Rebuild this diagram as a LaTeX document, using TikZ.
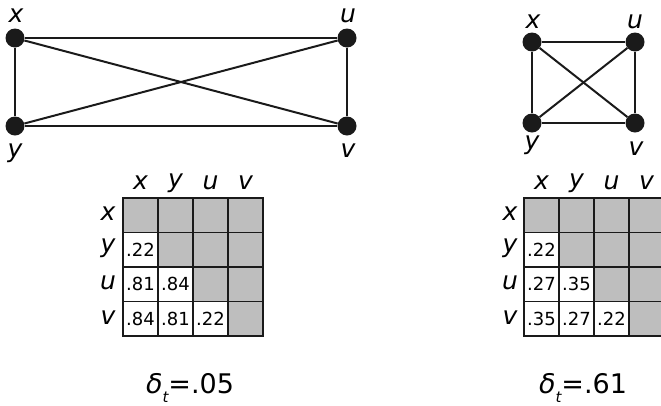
\documentclass[tikz,border=0pt]{standalone}
\usepackage{fontspec}
\setmainfont{DejaVu Sans}
\usetikzlibrary{positioning}
\definecolor{vertexfill}{RGB}{26, 26, 26}
\definecolor{cellgrey}{RGB}{190, 190, 190}
\begin{document}
\begin{tikzpicture}[
    x=1pt, y=-1pt,
    vertex/.style={circle, fill=vertexfill, draw=none, minimum size=19pt, inner sep=0pt},
    edge/.style={line width=2pt, vertexfill},
    vlabel/.style={font=\fontsize{25}{27}\selectfont\itshape, inner sep=0pt},
    cell/.style={draw=vertexfill, line width=1.3pt, minimum width=35pt, minimum height=34.5pt,
                 inner sep=0pt, font=\fontsize{18}{20}\selectfont},
    upper/.style={cell, fill=cellgrey},
    delta/.style={font=\fontsize{27}{32}\selectfont, inner sep=0pt}
]
    \useasboundingbox (0,0) rectangle (661,405);

    % Left graph
    \node[vertex] (xl) at (15,38) {};
    \node[vertex] (ul) at (347,38) {};
    \node[vertex] (yl) at (15,126) {};
    \node[vertex] (vl) at (347,126) {};
    \node[vlabel] at (16,16) {x};
    \node[vlabel] at (348,16) {u};
    \node[vlabel] at (15,153) {y};
    \node[vlabel] at (348,151) {v};

    % Right graph
    \node[vertex] (xr) at (532,42) {};
    \node[vertex] (ur) at (635,42) {};
    \node[vertex] (yr) at (532,123) {};
    \node[vertex] (vr) at (635,123) {};
    \node[vlabel] at (533,22) {x};
    \node[vlabel] at (635,22) {u};
    \node[vlabel] at (532,145) {y};
    \node[vlabel] at (636,149) {v};

    % Edges
    \foreach \s in {l,r}{
        \draw[edge] (x\s) -- (u\s);
        \draw[edge] (y\s) -- (v\s);
        \draw[edge] (x\s) -- (y\s);
        \draw[edge] (u\s) -- (v\s);
        \draw[edge] (x\s) -- (v\s);
        \draw[edge] (y\s) -- (u\s);
    }

    % Matrices: grey cells on and above the diagonal
    \foreach \m/\left/\rowx in {L/123/108, R/524/510}{
        \foreach \name [count=\i from 0] in {x,y,u,v}{
            \node[vlabel] at (\left+17.5+35*\i,183) {\name};
            \node[vlabel] at (\rowx,198+16+34.5*\i) {\name};
            \foreach \j in {\i,...,3}
                \node[upper] (\m-\i-\j) at (\left+17.5+35*\j,198+17.25+34.5*\i) {};
        }
    }
    % Matrix entries below the diagonal
    \foreach \m/\left/\i/\j/\val in {
        L/123/1/0/.22, L/123/2/0/.81, L/123/2/1/.84, L/123/3/0/.84, L/123/3/1/.81, L/123/3/2/.22,
        R/524/1/0/.22, R/524/2/0/.27, R/524/2/1/.35, R/524/3/0/.35, R/524/3/1/.27, R/524/3/2/.22}
        \node[cell] (\m-\i-\j) at (\left+17.5+35*\j,198+17.25+34.5*\i) {\val};

    % Labels
    \node[delta] (dl) at (190,388) {\textit{δ}\raisebox{-0.3em}{\fontsize{15}{17}\selectfont\itshape t}=.05};
    \node[delta] (dr) at (583,388) {\textit{δ}\raisebox{-0.3em}{\fontsize{15}{17}\selectfont\itshape t}=.61};
\end{tikzpicture}
\end{document}
